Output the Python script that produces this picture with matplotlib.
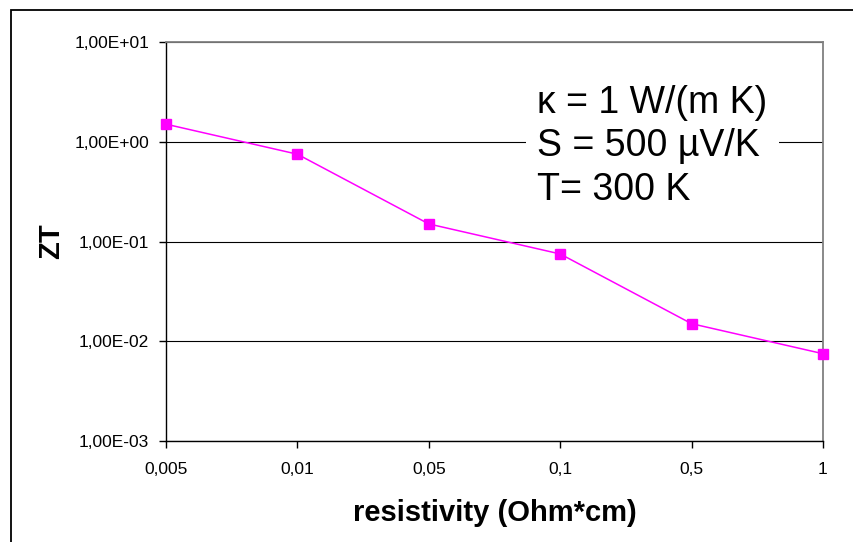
import matplotlib
matplotlib.use("Agg")
import matplotlib.pyplot as plt
from matplotlib.patches import Rectangle
from matplotlib.ticker import FixedLocator, FuncFormatter, NullLocator

plt.rcParams["font.family"] = ["Liberation Sans", "DejaVu Sans"]

# resistivity categories (Ohm*cm) and ZT values
resistivity_labels = ["0,005", "0,01", "0,05", "0,1", "0,5", "1"]
zt_values = [1.5, 0.75, 0.15, 0.075, 0.015, 0.0075]
y_ticks = [1e-3, 1e-2, 1e-1, 1e0, 1e1]

W, H = 854, 542


def sci_comma(v, pos):
    """
    Format like 1,00E-01
    """
    s = f"{v:.2E}"
    mant, exp = s.split("E")
    sign = exp[0]
    return f"{mant.replace('.', ',')}E{sign}{exp[1:].zfill(2)}"


def main():
    fig = plt.figure(figsize=(W / 100, H / 100), dpi=100)
    ax = fig.add_axes([166 / W, 1 - 441 / H, (823 - 166) / W, (441 - 42) / H])

    # outer chart border
    fig.patches.append(Rectangle((11 / W, -0.1), 1.2, 1 - 10 / H + 0.1,
                                 transform=fig.transFigure, fill=False,
                                 edgecolor="black", linewidth=1.3))

    x = list(range(len(zt_values)))
    ax.plot(x, zt_values, color="#ff00ff", linewidth=1.1, marker="s",
            markersize=6.5, markerfacecolor="#ff00ff", markeredgecolor="#ff00ff",
            zorder=3, clip_on=False)

    ax.set_yscale("log")
    ax.set_ylim(1e-3, 1e1)
    ax.set_xlim(0, len(zt_values) - 1)
    ax.yaxis.set_major_locator(FixedLocator(y_ticks))
    ax.yaxis.set_minor_locator(NullLocator())
    ax.yaxis.set_major_formatter(FuncFormatter(sci_comma))
    ax.set_xticks(x)
    ax.set_xticklabels(resistivity_labels)

    ax.grid(axis="y", color="black", linewidth=0.8)
    ax.set_axisbelow(True)
    for side in ("top", "right"):
        ax.spines[side].set_color("#808080")
        ax.spines[side].set_linewidth(1.3)
    for side in ("left", "bottom"):
        ax.spines[side].set_color("black")
        ax.spines[side].set_linewidth(1.0)

    ax.tick_params(axis="both", direction="out", length=5, width=1, labelsize=12.5)
    ax.tick_params(axis="y", pad=7)
    ax.tick_params(axis="x", pad=10)

    ax.set_xlabel("resistivity (Ohm*cm)", fontsize=21, fontweight="bold", labelpad=16)
    ax.set_ylabel("ZT", fontsize=21, fontweight="bold", labelpad=7)

    ax.text(0.565, 0.893, "κ = 1 W/(m K)\nS = 500 µV/K\nT= 300 K",
            transform=ax.transAxes, fontsize=27, va="top", ha="left",
            linespacing=1.27,
            bbox=dict(facecolor="white", edgecolor="none", pad=8))

    fig.savefig("out.png", dpi=100)


if __name__ == "__main__":
    main()
